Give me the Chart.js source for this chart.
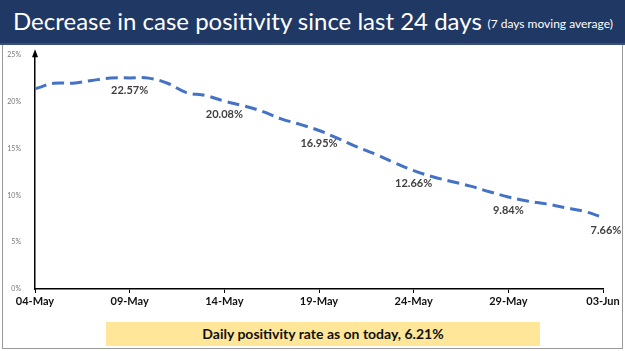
<!DOCTYPE html>
<html>
<head>
<meta charset="utf-8">
<script src="https://cdn.jsdelivr.net/npm/chart.js@4"></script>
<style>
  body { margin: 0; width: 625px; height: 351px; background: #fff; overflow: hidden; font-family: Lato, "Open Sans", sans-serif; }
  #titlebar { position: absolute; left: 0; top: 0; width: 625px; height: 43px; background: #1f3864; border-bottom: 2px solid #3b4f7a; }
  #title { position: absolute; left: 13px; top: 6px; color: #fff; font-size: 24px; white-space: nowrap; }
  #subtitle { position: absolute; right: 12px; top: 16px; color: #fff; font-size: 12px; white-space: nowrap; }
  #frame { position: absolute; left: 2px; top: 45px; width: 619px; height: 303px; border: 1px solid #999; border-top: none; }
  #wrap { position: absolute; left: 0; top: 45px; width: 625px; height: 272px; }
  #note { position: absolute; left: 106px; top: 322px; width: 434px; height: 24px; background: #ffe699; color: #111; font-family: Lato, sans-serif; font-weight: bold; font-size: 14px; text-align: center; line-height: 24px; }
</style>
</head>
<body>
<div id="titlebar">
  <div id="title">Decrease in case positivity since last 24 days</div>
  <div id="subtitle">(7 days moving average)</div>
</div>
<div id="frame"></div>
<div id="wrap"><canvas id="chart"></canvas></div>
<div id="note">Daily positivity rate as on today, 6.21%</div>
<script>
const dates = ['04-May','05-May','06-May','07-May','08-May','09-May','10-May','11-May','12-May','13-May',
  '14-May','15-May','16-May','17-May','18-May','19-May','20-May','21-May','22-May','23-May',
  '24-May','25-May','26-May','27-May','28-May','29-May','30-May','31-May','01-Jun','02-Jun','03-Jun'];
const positivity = [21.4, 22.0, 22.0, 22.3, 22.55, 22.57, 22.55, 22.0, 21.0, 20.7,
  20.08, 19.6, 19.0, 18.2, 17.6, 16.95, 16.1, 15.2, 14.4, 13.5,
  12.66, 12.0, 11.5, 11.0, 10.4, 9.84, 9.4, 9.1, 8.7, 8.3, 7.66];
const labelIdx = [5, 10, 15, 20, 25, 30];

// value labels under the line + arrow on top of y axis
const extras = {
  id: 'extras',
  afterDatasetsDraw(chart) {
    const ctx = chart.ctx;
    const meta = chart.getDatasetMeta(0);
    ctx.save();
    ctx.font = 'bold 11px Lato, sans-serif';
    ctx.fillStyle = '#404040';
    ctx.textAlign = 'center';
    ctx.textBaseline = 'middle';
    labelIdx.forEach(i => {
      const p = meta.data[i];
      ctx.fillText(positivity[i].toFixed(2) + '%', p.x + (i == 30 ? 3 : 0), p.y + 13);
    });
    const a = chart.chartArea;
    ctx.fillStyle = '#000';
    ctx.beginPath();
    ctx.moveTo(a.left, a.top - 6);
    ctx.lineTo(a.left - 3, a.top + 2);
    ctx.lineTo(a.left + 3, a.top + 2);
    ctx.closePath();
    ctx.fill();
    ctx.restore();
  }
};

new Chart(document.getElementById('chart'), {
  type: 'line',
  data: {
    labels: dates,
    datasets: [{
      data: positivity,
      borderColor: '#4472c4',
      borderWidth: 3,
      borderDash: [12, 6],
      tension: 0.4,
      pointRadius: 0,
      fill: false
    }]
  },
  options: {
    responsive: true,
    maintainAspectRatio: false,
    animation: false,
    layout: { padding: { top: 7, right: 22, left: 0, bottom: 0 } },
    plugins: { legend: { display: false }, tooltip: { enabled: false } },
    scales: {
      x: {
        afterFit: s => { s.height = 28; },
        border: { display: true, color: '#000', width: 1.5 },
        grid: {
          drawOnChartArea: false,
          tickLength: 4,
          color: c => (c.index % 5 === 0 ? '#000' : 'rgba(0,0,0,0)')
        },
        ticks: {
          autoSkip: false,
          maxRotation: 0,
          color: '#111',
          font: { family: 'Lato', weight: 'bold', size: 11 },
          padding: 2,
          callback: (v, i) => (i % 5 === 0 ? dates[i] : '')
        }
      },
      y: {
        min: 0,
        max: 25,
        afterFit: s => { s.width = 35; },
        border: { display: true, color: '#000', width: 1.5 },
        grid: { display: false },
        ticks: {
          stepSize: 5,
          color: '#777',
          font: { family: 'Lato', size: 7 },
          padding: 6,
          callback: v => v + '%'
        }
      }
    }
  },
  plugins: [extras]
});
</script>
</body>
</html>
